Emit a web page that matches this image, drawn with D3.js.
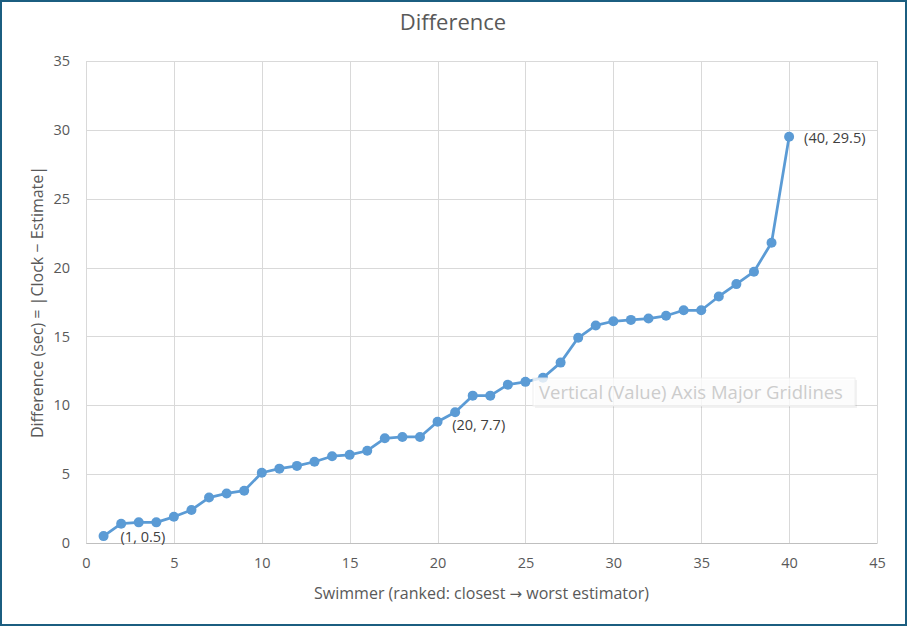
<!DOCTYPE html>
<html>
<head>
<meta charset="utf-8">
<script src="https://cdn.jsdelivr.net/npm/d3@7"></script>
<style>
  html, body { margin: 0; padding: 0; background: #fff; }
  svg { display: block; font-family: "Open Sans", "Noto Sans", sans-serif; }
</style>
</head>
<body>
<div id="chart"></div>
<script>
// Data
const swimmers = d3.range(1, 41);
const differences = [
  0.5, 1.4, 1.5, 1.5, 1.9, 2.4, 3.3, 3.6, 3.8, 5.1,
  5.4, 5.6, 5.9, 6.3, 6.4, 6.7, 7.6, 7.7, 7.7, 8.8,
  9.5, 10.7, 10.7, 11.5, 11.7, 12.0, 13.1, 14.9, 15.8, 16.1,
  16.2, 16.3, 16.5, 16.9, 16.9, 17.9, 18.8, 19.7, 21.8, 29.5
];
const xTicks = [0, 5, 10, 15, 20, 25, 30, 35, 40, 45];
const yTicks = [0, 5, 10, 15, 20, 25, 30, 35];
// point labels as they appear, with the point each sits next to
const pointLabels = [
  { text: "(1, 0.5)", at: 1, dx: 17, dy: 6 },
  { text: "(20, 7.7)", at: 21, dx: -3, dy: 18 },
  { text: "(40, 29.5)", at: 40, dx: 15, dy: 6 }
];

const data = swimmers.map((s, i) => ({ x: s, y: differences[i] }));

const width = 907, height = 626;
const margin = { top: 61, right: 30, bottom: 83, left: 86 };

const svg = d3.select("#chart").append("svg")
  .attr("width", width)
  .attr("height", height);

// outer frame
svg.append("rect")
  .attr("x", 1).attr("y", 1)
  .attr("width", width - 2).attr("height", height - 2)
  .attr("fill", "#fff")
  .attr("stroke", "#1b5e80")
  .attr("stroke-width", 2);

const x = d3.scaleLinear().domain([0, 45]).range([margin.left, width - margin.right]);
const y = d3.scaleLinear().domain([0, 35]).range([height - margin.bottom, margin.top]);

// gridlines
svg.append("g").selectAll("line")
  .data(yTicks)
  .join("line")
  .attr("x1", x(0)).attr("x2", x(45))
  .attr("y1", d => Math.round(y(d)) + 0.5).attr("y2", d => Math.round(y(d)) + 0.5)
  .attr("stroke", "#d9d9d9");

svg.append("g").selectAll("line")
  .data(xTicks)
  .join("line")
  .attr("x1", d => Math.round(x(d)) + 0.5).attr("x2", d => Math.round(x(d)) + 0.5)
  .attr("y1", y(0)).attr("y2", y(35))
  .attr("stroke", "#d9d9d9");

// tick labels
const xAxis = svg.append("g")
  .attr("transform", `translate(0,${y(0)})`)
  .call(d3.axisBottom(x).tickValues(xTicks).tickSize(0).tickPadding(15));
xAxis.select(".domain").attr("stroke", "#bfbfbf");
xAxis.selectAll("text").attr("fill", "#595959").attr("font-size", 14.5).attr("font-family", "Open Sans, sans-serif");

const yAxis = svg.append("g")
  .attr("transform", `translate(${x(0)},0)`)
  .call(d3.axisLeft(y).tickValues(yTicks).tickSize(0).tickPadding(16));
yAxis.select(".domain").remove();
yAxis.selectAll("text").attr("fill", "#595959").attr("font-size", 14.5).attr("font-family", "Open Sans, sans-serif");

// titles
svg.append("text")
  .attr("x", 453).attr("y", 30)
  .attr("text-anchor", "middle")
  .attr("fill", "#595959")
  .attr("font-size", 22)
  .text("Difference");

const xTitle = svg.append("text")
  .attr("x", (x(0) + x(45)) / 2).attr("y", 599)
  .attr("text-anchor", "middle")
  .attr("fill", "#595959")
  .attr("font-size", 16);
xTitle.append("tspan").text("Swimmer (ranked: closest ");
xTitle.append("tspan").attr("font-family", "DejaVu Sans").attr("font-size", 15).text("\u2192");
xTitle.append("tspan").text(" worst estimator)");

svg.append("text")
  .attr("transform", `translate(43,${(y(0) + y(35)) / 2}) rotate(-90)`)
  .attr("text-anchor", "middle")
  .attr("fill", "#595959")
  .attr("font-size", 16)
  .text("Difference (sec) = |Clock \u2212 Estimate|");

// series
const line = d3.line().x(d => x(d.x)).y(d => y(d.y));
svg.append("path")
  .datum(data)
  .attr("d", line)
  .attr("fill", "none")
  .attr("stroke", "#5b9bd5")
  .attr("stroke-width", 2.75)
  .attr("stroke-linejoin", "round");

svg.append("g").selectAll("circle")
  .data(data)
  .join("circle")
  .attr("cx", d => x(d.x))
  .attr("cy", d => y(d.y))
  .attr("r", 5)
  .attr("fill", "#5b9bd5");

// data labels
svg.append("g").selectAll("text")
  .data(pointLabels)
  .join("text")
  .attr("x", d => x(d.at) + d.dx)
  .attr("y", d => y(differences[d.at - 1]) + d.dy)
  .attr("fill", "#404040")
  .attr("font-size", 14.5)
  .text(d => d.text);

// hover tooltip left in the screenshot
const tip = svg.append("g").attr("transform", "translate(533,378)");
tip.append("rect")
  .attr("x", 2).attr("y", 2)
  .attr("width", 322).attr("height", 28)
  .attr("fill", "#000").attr("opacity", 0.05);
tip.append("rect")
  .attr("width", 322).attr("height", 28)
  .attr("fill", "#fff").attr("opacity", 0.8)
  .attr("stroke", "#eeeeee");
tip.append("text")
  .attr("x", 6).attr("y", 21)
  .attr("fill", "#cccccc")
  .attr("font-size", 18.5)
  .text("Vertical (Value) Axis Major Gridlines");
</script>
</body>
</html>
